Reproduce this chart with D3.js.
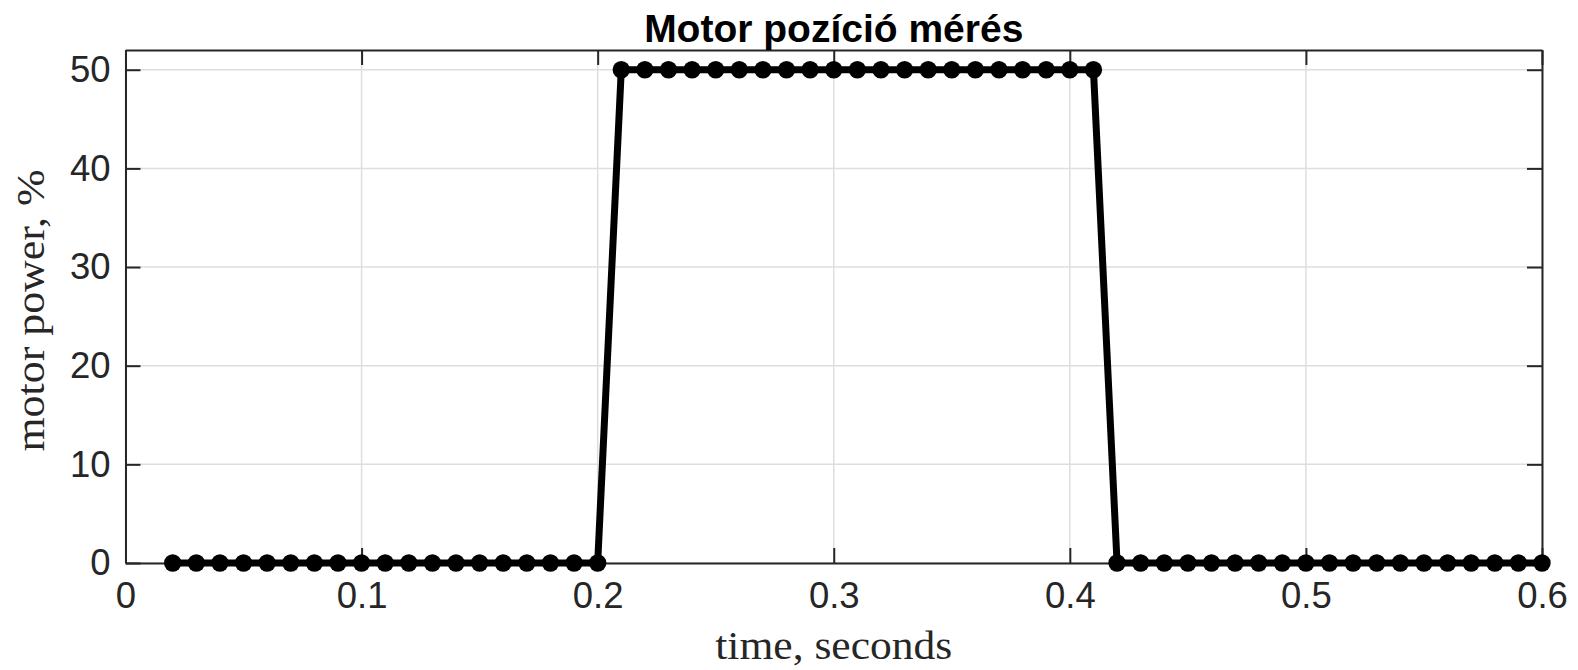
<!DOCTYPE html>
<html>
<head>
<meta charset="utf-8">
<script src="https://cdn.jsdelivr.net/npm/d3@7"></script>
<style>
  html, body { margin: 0; padding: 0; background: #fff; }
  svg { display: block; }
</style>
</head>
<body>
<div id="chart"></div>
<script>
// Motor pozíció mérés - motor power step
var timeValues = [
  0.02, 0.03, 0.04, 0.05, 0.06, 0.07, 0.08, 0.09, 0.10, 0.11,
  0.12, 0.13, 0.14, 0.15, 0.16, 0.17, 0.18, 0.19, 0.20, 0.21,
  0.22, 0.23, 0.24, 0.25, 0.26, 0.27, 0.28, 0.29, 0.30, 0.31,
  0.32, 0.33, 0.34, 0.35, 0.36, 0.37, 0.38, 0.39, 0.40, 0.41,
  0.42, 0.43, 0.44, 0.45, 0.46, 0.47, 0.48, 0.49, 0.50, 0.51,
  0.52, 0.53, 0.54, 0.55, 0.56, 0.57, 0.58, 0.59, 0.60
];
var powerValues = [
  0, 0, 0, 0, 0, 0, 0, 0, 0, 0,
  0, 0, 0, 0, 0, 0, 0, 0, 0, 50,
  50, 50, 50, 50, 50, 50, 50, 50, 50, 50,
  50, 50, 50, 50, 50, 50, 50, 50, 50, 50,
  0, 0, 0, 0, 0, 0, 0, 0, 0, 0,
  0, 0, 0, 0, 0, 0, 0, 0, 0
];
var xTicks = [0, 0.1, 0.2, 0.3, 0.4, 0.5, 0.6];
var xTickLabels = ['0', '0.1', '0.2', '0.3', '0.4', '0.5', '0.6'];
var yTicks = [0, 10, 20, 30, 40, 50];
var yTickLabels = ['0', '10', '20', '30', '40', '50'];

var titleText = 'Motor pozíció mérés';
var xLabelText = 'time, seconds';
var yLabelText = 'motor power, %';

var width = 1578, height = 670;
var margin = { top: 50, right: 36, bottom: 107, left: 125.5 };
var plotW = width - margin.left - margin.right;
var plotH = height - margin.top - margin.bottom;

var svg = d3.select('#chart').append('svg')
    .attr('width', width)
    .attr('height', height);

var x = d3.scaleLinear().domain([0, 0.6]).range([0, plotW]);
var y = d3.scaleLinear().domain([0, 52]).range([plotH, 0]);

var g = svg.append('g')
    .attr('transform', 'translate(' + margin.left + ',' + margin.top + ')');

var axisColor = '#262626';
var tickFont = '"Liberation Sans", Arial, Helvetica, sans-serif';
var serifFont = '"Liberation Serif", "DejaVu Serif", serif';

// grid
g.append('g').selectAll('line.gx')
    .data(xTicks)
    .join('line')
    .attr('x1', function(d) { return x(d); })
    .attr('x2', function(d) { return x(d); })
    .attr('y1', 0).attr('y2', plotH)
    .attr('stroke', '#dedede').attr('stroke-width', 1.5);

g.append('g').selectAll('line.gy')
    .data(yTicks)
    .join('line')
    .attr('y1', function(d) { return y(d); })
    .attr('y2', function(d) { return y(d); })
    .attr('x1', 0).attr('x2', plotW)
    .attr('stroke', '#dedede').attr('stroke-width', 1.5);

// axes with inward ticks, mirrored on all sides
var tickLen = 15;
var xAxisB = d3.axisBottom(x).tickValues(xTicks).tickSizeInner(-tickLen).tickSizeOuter(0)
    .tickFormat(function(d, i) { return xTickLabels[i]; }).tickPadding(24);
var xAxisT = d3.axisTop(x).tickValues(xTicks).tickSizeInner(-tickLen).tickSizeOuter(0)
    .tickFormat('');
var yAxisL = d3.axisLeft(y).tickValues(yTicks).tickSizeInner(-tickLen).tickSizeOuter(0)
    .tickFormat(function(d, i) { return yTickLabels[i]; }).tickPadding(15);
var yAxisR = d3.axisRight(y).tickValues(yTicks).tickSizeInner(-tickLen).tickSizeOuter(0)
    .tickFormat('');

function styleAxis(sel) {
    sel.selectAll('.domain').attr('stroke', axisColor).attr('stroke-width', 2);
    sel.selectAll('.tick line').attr('stroke', axisColor).attr('stroke-width', 2);
    sel.selectAll('.tick text')
        .attr('fill', axisColor)
        .style('font-family', tickFont)
        .style('font-size', '36.5px');
}

g.append('g').attr('transform', 'translate(0,' + plotH + ')').call(xAxisB).call(styleAxis);
g.append('g').call(xAxisT).call(styleAxis);
g.append('g').call(yAxisL).call(styleAxis);
g.append('g').attr('transform', 'translate(' + plotW + ',0)').call(yAxisR).call(styleAxis);

// x tick labels: push down a bit so digits start below axis
g.selectAll('.tick text').filter(function() { return this.getAttribute('dy') === '0.71em'; })
    .attr('dy', '0.58em');

// data
var points = timeValues.map(function(t, i) { return { t: t, v: powerValues[i] }; });

var line = d3.line()
    .x(function(d) { return x(d.t); })
    .y(function(d) { return y(d.v); });

g.append('path')
    .datum(points)
    .attr('d', line)
    .attr('fill', 'none')
    .attr('stroke', '#000')
    .attr('stroke-width', 7)
    .attr('stroke-linejoin', 'round');

g.append('g').selectAll('circle')
    .data(points)
    .join('circle')
    .attr('cx', function(d) { return x(d.t); })
    .attr('cy', function(d) { return y(d.v); })
    .attr('r', 8.7)
    .attr('fill', '#000');

// title
svg.append('text')
    .attr('x', margin.left + plotW / 2)
    .attr('y', 42)
    .attr('text-anchor', 'middle')
    .style('font-family', tickFont)
    .style('font-weight', 'bold')
    .style('font-size', '39px')
    .attr('fill', '#000')
    .text(titleText);

// axis labels
svg.append('text')
    .attr('x', margin.left + plotW / 2)
    .attr('y', 659)
    .attr('text-anchor', 'middle')
    .attr('textLength', 237)
    .attr('lengthAdjust', 'spacingAndGlyphs')
    .style('font-family', serifFont)
    .style('font-size', '41px')
    .attr('fill', axisColor)
    .text(xLabelText);

svg.append('text')
    .attr('transform', 'translate(44,' + (margin.top + plotH / 2 + 4) + ') rotate(-90)')
    .attr('text-anchor', 'middle')
    .attr('textLength', 282)
    .attr('lengthAdjust', 'spacingAndGlyphs')
    .style('font-family', serifFont)
    .style('font-size', '41px')
    .attr('fill', axisColor)
    .text(yLabelText);
</script>
</body>
</html>
